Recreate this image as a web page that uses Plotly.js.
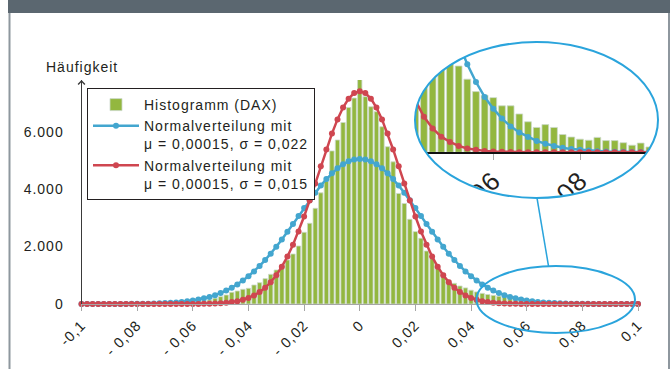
<!DOCTYPE html>
<html>
<head>
<meta charset="utf-8">
<script src="https://cdn.plot.ly/plotly-3.0.1.min.js"></script>
<style>
html,body{margin:0;padding:0;background:#fff;}
#chart{width:672px;height:369px;}
#chart text, svg text.legendtext, svg text.ytick, svg text.xtick { letter-spacing: 1px; }
</style>
</head>
<body>
<div id="chart"></div>
<script>
// ---------- data ----------
const returns = [
-0.100,-0.098,-0.096,-0.094,-0.092,-0.090,-0.088,-0.086,-0.084,-0.082,
-0.080,-0.078,-0.076,-0.074,-0.072,-0.070,-0.068,-0.066,-0.064,-0.062,
-0.060,-0.058,-0.056,-0.054,-0.052,-0.050,-0.048,-0.046,-0.044,-0.042,
-0.040,-0.038,-0.036,-0.034,-0.032,-0.030,-0.028,-0.026,-0.024,-0.022,
-0.020,-0.018,-0.016,-0.014,-0.012,-0.010,-0.008,-0.006,-0.004,-0.002,
0,
0.002,0.004,0.006,0.008,0.010,0.012,0.014,0.016,0.018,0.020,
0.022,0.024,0.026,0.028,0.030,0.032,0.034,0.036,0.038,0.040,
0.042,0.044,0.046,0.048,0.050,0.052,0.054,0.056,0.058,0.060,
0.062,0.064,0.066,0.068,0.070,0.072,0.074,0.076,0.078,0.080,
0.082,0.084,0.086,0.088,0.090,0.092,0.094,0.096,0.098,0.100];

const histDAX = [
0,1,0,1,1,2,1,2,3,3,
4,5,7,9,12,16,22,30,40,50,
65,85,110,140,198,254,313,407,452,511,
546,662,742,882,1034,1184,1358,1532,1741,2019,
2496,2810,3332,3870,4280,5330,5710,6320,6840,7170,
7915,
7218,6870,6696,6173,5477,4950,3850,3500,2950,2520,
2290,1845,1580,1300,1069,836,720,627,560,480,
420,370,330,300,270,243,206,171,161,154,
131,131,108,86,70,78,70,50,43,37,
34,42,33,33,27,20,26,15,12,10];

const normal022 = [
0.2,0.2,0.4,0.5,0.8,1.2,1.7,2,3,5,
7,9,13,18,24,32,43,56,73,95,
123,156,198,248,309,382,467,567,683,816,
967,1136,1324,1530,1753,1993,2247,2512,2785,3063,
3341,3614,3876,4124,4352,4554,4727,4866,4967,5029,
5050,
5029,4967,4866,4727,4554,4352,4124,3876,3614,3341,
3063,2785,2512,2247,1993,1753,1530,1324,1136,967,
816,683,567,467,382,309,248,198,156,123,
95,73,56,43,32,24,18,13,9,7,
5,3,2,1.7,1.2,0.8,0.5,0.4,0.2,0.2];

const normal015 = [
0,0,0,0,0,0,0,0,0,0,
0,0,0,0,0,0,0.2,0.4,0.8,1.4,
2.5,4,7,11,18,29,44,67,100,147,
212,299,416,568,761,1003,1298,1650,2060,2527,
3046,3607,4195,4794,5381,5934,6428,6840,7151,7344,
7410,
7344,7151,6840,6428,5934,5381,4794,4195,3607,3046,
2527,2060,1650,1298,1003,761,568,416,299,212,
147,100,67,44,29,18,11,7,4,2.5,
1.4,0.8,0.4,0.2,0,0,0,0,0,0,
0,0,0,0,0,0,0,0,0,0];

const xTickVals = [-0.1,-0.08,-0.06,-0.04,-0.02,0,0.02,0.04,0.06,0.08,0.1];
const xTickText = ['-0,1','- 0,08','- 0,06','- 0,04','- 0,02','0','0,02','0,04','0,06','0,08','0,1'];
const yTickVals = [0,2000,4000,6000];
const yTickText = ['0','2.000','4.000','6.000'];
const insetTickVals = [0.06,0.08];
const insetTickText = ['0,06','0,08'];
const names = ['Histogramm (DAX)',
  'Normalverteilung mit<br>μ = 0,00015, σ = 0,022',
  'Normalverteilung mit<br>μ = 0,00015, σ = 0,015'];

// ---------- layout helpers (pixel -> paper) ----------
const W = 672, H = 369;
const fx = p => p / W;
const fy = p => (H - p) / H;

const GREEN = '#93b73f', BAR_EDGE = '#cbd9cc', BLUE = '#43a6cf', RED = '#cf4650', RING = '#2aa4dc';
const FONT = 'Liberation Sans, Arial, sans-serif';
const INK = '#231f20';

function traces(xa, ya, main) {
  return [
    {type:'bar', x: returns, y: histDAX, xaxis: xa, yaxis: ya, name: names[0],
     showlegend: main, cliponaxis: !main,
     marker: {color: GREEN, line: {color: BAR_EDGE, width: 0.8}}},
    {type:'scatter', mode:'lines+markers', x: returns, y: normal022, xaxis: xa, yaxis: ya,
     name: names[1], showlegend: main, cliponaxis: !main,
     line: {color: BLUE, width: 2.5}, marker: {color: BLUE, size: 6}},
    {type:'scatter', mode:'lines+markers', x: returns, y: normal015, xaxis: xa, yaxis: ya,
     name: names[2], showlegend: main, cliponaxis: !main,
     line: {color: RED, width: 2.5}, marker: {color: RED, size: 6}}
  ];
}

// inset geometry (pixels)
const insL = 412, insR = 662, insTop = 33, insBase = 152.3;
const ex = 536.5, ey = 120, erx = 121.5, ery = 78;

function ellipsePath(cx, cy, rx, ry) {
  const k = 0.5523;
  const X = v => fx(v).toFixed(5), Y = v => fy(v).toFixed(5);
  return `M${X(cx+rx)},${Y(cy)} C${X(cx+rx)},${Y(cy-k*ry)} ${X(cx+k*rx)},${Y(cy-ry)} ${X(cx)},${Y(cy-ry)} ` +
         `C${X(cx-k*rx)},${Y(cy-ry)} ${X(cx-rx)},${Y(cy-k*ry)} ${X(cx-rx)},${Y(cy)} ` +
         `C${X(cx-rx)},${Y(cy+k*ry)} ${X(cx-k*rx)},${Y(cy+ry)} ${X(cx)},${Y(cy+ry)} ` +
         `C${X(cx+k*rx)},${Y(cy+ry)} ${X(cx+rx)},${Y(cy+k*ry)} ${X(cx+rx)},${Y(cy)} Z`;
}
function polyPath(pts) {
  return 'M' + pts.map(p => fx(p[0]).toFixed(5) + ',' + fy(p[1]).toFixed(5)).join(' L') + ' Z';
}
const maskOuter = polyPath([[409,28],[665,28],[665,162],[616,162],[616,226],[430,226],[430,162],[409,162]]);
const maskPath = maskOuter + ' ' + ellipsePath(ex, ey, erx, ery);

const layout = {
  width: W, height: H,
  margin: {l:0, r:0, t:0, b:0},
  paper_bgcolor: '#ffffff', plot_bgcolor: 'rgba(0,0,0,0)',
  font: {family: FONT, size: 14, color: INK},
  showlegend: true,
  bargap: 0.22,
  hovermode: false,
  xaxis: {domain: [fx(81.5), fx(638)], range: [-0.1, 0.1], anchor: 'y',
          tickvals: xTickVals, ticktext: xTickText, tickangle: -45,
          ticks: 'outside', ticklen: 6, tickcolor: '#a6a6a6', tickwidth: 1,
          showline: true, linecolor: '#a6a6a6', linewidth: 1,
          showgrid: false, zeroline: false, tickfont: {size: 14.5, color: INK}},
  yaxis: {domain: [fy(304), fy(80)], range: [0, 7800], anchor: 'x',
          tickvals: yTickVals, ticktext: yTickText, ticks: '', ticklabelstandoff: 14,
          showline: true, linecolor: '#3a3a3a', linewidth: 1,
          showgrid: false, zeroline: false, tickfont: {size: 14, color: INK}},
  xaxis2: {domain: [fx(insL), fx(insR)], anchor: 'y2',
           range: [0.06 + (insL - 493.3) / 4335, 0.06 + (insR - 493.3) / 4335],
           tickvals: insetTickVals, ticktext: insetTickText, tickangle: -45,
           ticks: 'outside', ticklen: 6, tickcolor: '#aaaaaa', ticklabelstandoff: -5,
           showline: true, linecolor: '#111111', linewidth: 1.5,
           showgrid: false, zeroline: false, tickfont: {size: 26, color: INK}},
  yaxis2: {domain: [fy(insBase), fy(insTop)], anchor: 'x2',
           range: [0, (insBase - insTop) / 0.355],
           visible: false, showgrid: false, zeroline: false},
  legend: {x: fx(87), y: fy(88), xanchor: 'left', yanchor: 'top',
           bgcolor: '#ffffff', bordercolor: INK, borderwidth: 1,
           font: {size: 14, color: INK}, valign: 'top', itemwidth: 46,
           tracegroupgap: 0},
  annotations: [
    {xref: 'paper', yref: 'paper', x: fx(82), y: fy(67), text: 'Häufigkeit',
     showarrow: false, font: {size: 14, color: INK}, xanchor: 'center', yanchor: 'middle'},
    {xref: 'x', yref: 'y', x: -0.1, y: 7800, ax: 0, ay: 10, text: '', showarrow: true,
     arrowhead: 4, arrowsize: 1.3, arrowwidth: 1, arrowcolor: '#3a3a3a'}
  ],
  shapes: [
    // header bar and frame
    {type:'rect', xref:'paper', yref:'paper', x0: fx(8), x1: fx(670), y0: fy(13), y1: fy(0),
     fillcolor: '#5b6770', line: {width: 0}, layer: 'below'},
    {type:'line', xref:'paper', yref:'paper', x0: fx(9.5), x1: fx(9.5), y0: fy(13), y1: fy(369),
     line: {color: '#8e979e', width: 2}},
    {type:'line', xref:'paper', yref:'paper', x0: fx(669), x1: fx(669), y0: fy(13), y1: fy(369),
     line: {color: '#8e979e', width: 2}},
    // mask outside the zoom ellipse
    {type:'path', xref:'paper', yref:'paper', path: maskPath, fillrule: 'evenodd',
     fillcolor: '#ffffff', line: {width: 0}, layer: 'above'},
    // zoom ellipse, small ellipse and connector
    {type:'circle', xref:'paper', yref:'paper', x0: fx(ex-erx), x1: fx(ex+erx), y0: fy(ey+ery), y1: fy(ey-ery),
     line: {color: RING, width: 2}},
    {type:'circle', xref:'paper', yref:'paper', x0: fx(476.5), x1: fx(635), y0: fy(333), y1: fy(266),
     line: {color: RING, width: 2}},
    {type:'line', xref:'paper', yref:'paper', x0: fx(537), x1: fx(548.5), y0: fy(198), y1: fy(266),
     line: {color: RING, width: 1.5}}
  ]
};

const data = traces('x', 'y', true).concat(traces('x2', 'y2', false));
Plotly.newPlot('chart', data, layout, {staticPlot: true, displayModeBar: false});
</script>
</body>
</html>
